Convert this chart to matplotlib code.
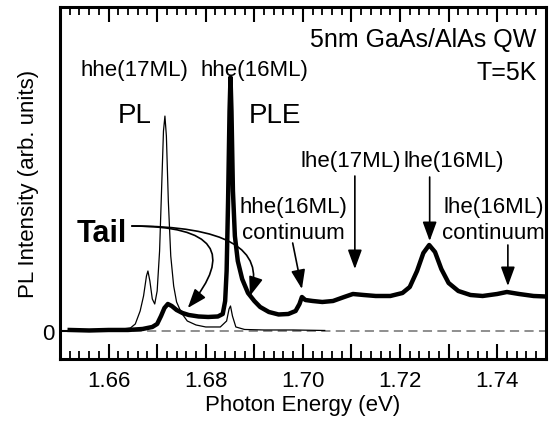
import matplotlib

matplotlib.use("Agg")
import matplotlib.pyplot as plt
from matplotlib.ticker import MultipleLocator

plt.rcParams["font.family"] = ["Liberation Sans", "DejaVu Sans"]

# PLE spectrum (thick line), photon energy in eV vs intensity (arb. units)
ple_energy = [
    1.652, 1.656, 1.660, 1.664, 1.667, 1.669, 1.6700, 1.6708, 1.6715, 1.6722,
    1.6730, 1.6740, 1.6752, 1.6765, 1.6785, 1.6805, 1.6825, 1.6835, 1.6840, 1.6843,
    1.6846, 1.6849, 1.6851, 1.6853, 1.6856, 1.6860, 1.6866, 1.6875, 1.6887, 1.6900,
    1.6912, 1.6930, 1.6950, 1.6970, 1.6985, 1.6993, 1.6998, 1.7005, 1.7020, 1.7040,
    1.7062, 1.7085, 1.7103, 1.7125, 1.7150, 1.7180, 1.7205, 1.7220, 1.7235, 1.7248,
    1.7260, 1.7272, 1.7285, 1.7300, 1.7320, 1.7345, 1.7370, 1.7400, 1.7420, 1.7445,
    1.7475, 1.7500,
]
ple_intensity = [
    0.01, 0.005, 0.01, 0.01, 0.02, 0.04, 0.07, 0.15, 0.23, 0.27,
    0.25, 0.21, 0.18, 0.16, 0.145, 0.14, 0.145, 0.17, 0.30, 0.60,
    1.30, 2.20, 2.54, 2.20, 1.40, 0.95, 0.70, 0.52, 0.38, 0.30,
    0.24, 0.19, 0.165, 0.17, 0.20, 0.27, 0.34, 0.31, 0.30, 0.29,
    0.30, 0.34, 0.37, 0.36, 0.35, 0.35, 0.38, 0.44, 0.60, 0.78,
    0.86, 0.79, 0.62, 0.48, 0.40, 0.36, 0.35, 0.37, 0.39, 0.37,
    0.35, 0.345,
]

# PL spectrum (thin line)
pl_energy = [
    1.652, 1.658, 1.662, 1.6645, 1.6655, 1.6665, 1.6672, 1.6678, 1.6681, 1.6685,
    1.6690, 1.6695, 1.6700, 1.6705, 1.6709, 1.6713, 1.6716, 1.6719, 1.6723, 1.6728,
    1.6734, 1.6740, 1.6750, 1.6762, 1.6780, 1.6800, 1.6830, 1.6843, 1.6848, 1.6851,
    1.6855, 1.6862, 1.6880, 1.6920, 1.6980, 1.7045,
]
pl_intensity = [
    0.005, 0.01, 0.015, 0.03, 0.07, 0.20, 0.35, 0.55, 0.60, 0.50,
    0.32, 0.27, 0.40, 0.80, 1.40, 2.00, 2.15, 1.95, 1.30, 0.75,
    0.45, 0.29, 0.18, 0.10, 0.06, 0.04, 0.04, 0.10, 0.22, 0.25,
    0.15, 0.04, 0.015, 0.01, 0.01, 0.005,
]

x_ticks = [1.66, 1.67, 1.68, 1.69, 1.70, 1.71, 1.72, 1.73, 1.74]
x_tick_labels = ["1.66", "", "1.68", "", "1.70", "", "1.72", "", "1.74"]

fig = plt.figure(figsize=(5.52, 4.27), dpi=100)
ax = fig.add_axes([0.1087, 0.157, 0.880, 0.824])

ax.axhline(0, color="#707070", linewidth=1.1, dashes=(6, 3.5), zorder=1)
ax.plot(pl_energy, pl_intensity, color="black", linewidth=0.9, zorder=2)
ax.plot(ple_energy, ple_intensity, color="black", linewidth=3.2, zorder=3)

ax.set_xlim(1.65, 1.75)
ax.set_ylim(-0.28, 3.24)
ax.set_xticks(x_ticks)
ax.set_xticklabels(x_tick_labels)
ax.xaxis.set_minor_locator(MultipleLocator(0.002))
ax.set_yticks([0])
ax.set_yticklabels(["0"])

ax.tick_params(axis="x", which="major", direction="in", top=True, bottom=True,
               length=11, width=1.5, labelsize=16, pad=8)
ax.tick_params(axis="x", which="minor", direction="in", top=True, bottom=True,
               length=5.5, width=1.3)
ax.tick_params(axis="y", which="major", direction="in", length=6, width=1.5,
               labelsize=16, pad=4)
for sp in ax.spines.values():
    sp.set_linewidth(2.2)

ax.set_xlabel("Photon Energy (eV)", fontsize=16, labelpad=2)
ax.set_ylabel("PL Intensity (arb. units)", fontsize=16, labelpad=2)

lbl = dict(fontsize=16, ha="center", va="baseline")
ax.text(1.6654, 2.56, "hhe(17ML)", **lbl)
ax.text(1.6901, 2.56, "hhe(16ML)", **lbl)
ax.text(1.6654, 2.09, "PL", fontsize=20, ha="center", va="baseline")
ax.text(1.6942, 2.09, "PLE", fontsize=20, ha="center", va="baseline")
ax.text(1.7481, 2.85, "5nm GaAs/AlAs QW", fontsize=18, ha="right", va="baseline")
ax.text(1.7481, 2.52, "T=5K", fontsize=18, ha="right", va="baseline")

ax.text(1.7099, 1.65, "lhe(17ML)", **lbl)
ax.text(1.7311, 1.65, "lhe(16ML)", **lbl)
ax.text(1.6981, 1.19, "hhe(16ML)", **lbl)
ax.text(1.6981, 0.93, "continuum", **lbl)
ax.text(1.7393, 1.19, "lhe(16ML)", **lbl)
ax.text(1.7393, 0.93, "continuum", **lbl)

arrow = dict(arrowstyle="-|>,head_length=0.9,head_width=0.33", color="black",
             linewidth=1.2, shrinkA=0, shrinkB=0, mutation_scale=13)
ax.annotate("", xy=(1.7107, 0.62), xytext=(1.7107, 1.55), arrowprops=arrow)
ax.annotate("", xy=(1.7261, 0.90), xytext=(1.7261, 1.54), arrowprops=arrow)
ax.annotate("", xy=(1.6998, 0.42), xytext=(1.6979, 0.88), arrowprops=arrow)
ax.annotate("", xy=(1.7422, 0.45), xytext=(1.7422, 0.86), arrowprops=arrow)

ax.text(1.6585, 0.90, "Tail", fontsize=22, fontweight="bold", ha="center",
        va="baseline")
ax.annotate("", xy=(1.6763, 0.23), xytext=(1.6648, 1.05),
            arrowprops=dict(arrow, connectionstyle="angle3,angleA=0,angleB=50"))
ax.annotate("", xy=(1.6891, 0.35), xytext=(1.6648, 1.05),
            arrowprops=dict(arrow, connectionstyle="angle3,angleA=0,angleB=72"))

fig.savefig("out.png", dpi=100)
